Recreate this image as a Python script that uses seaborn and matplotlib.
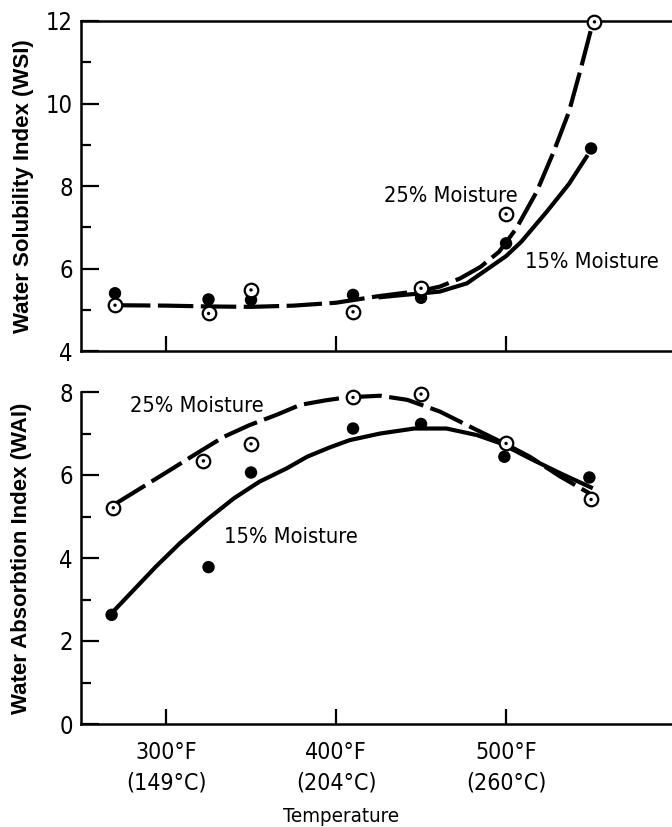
import matplotlib
matplotlib.use("Agg")
import matplotlib.pyplot as plt
import seaborn as sns
from matplotlib import font_manager as fm
from matplotlib.ticker import MultipleLocator, FixedLocator

# ---------------- data ----------------
# Water Solubility Index (top panel)
wsi_t_15 = [270, 325, 350, 410, 450, 500, 550]
wsi_v_15 = [5.40, 5.25, 5.24, 5.36, 5.29, 6.61, 8.91]
wsi_t_25 = [270, 325, 350, 410, 450, 500, 552]
wsi_v_25 = [5.11, 4.91, 5.48, 4.95, 5.52, 7.32, 11.98]

# fitted curves as drawn in the picture
wsi_curve_t_25 = [270, 300, 325, 350, 375, 400, 425, 450, 461, 473, 485, 496, 506, 518, 528, 537, 544, 550]
wsi_curve_v_25 = [5.11, 5.10, 5.08, 5.07, 5.10, 5.17, 5.33, 5.46, 5.56, 5.76, 6.04, 6.41, 6.97, 7.86, 8.83, 9.80, 10.85, 11.80]
wsi_curve_t_15 = [425, 440, 451, 461, 477, 493, 500, 509, 524, 537, 548]
wsi_curve_v_15 = [5.30, 5.36, 5.40, 5.44, 5.64, 6.10, 6.30, 6.65, 7.38, 8.05, 8.75]

# Water Absorption Index (bottom panel)
wai_t_15 = [268, 325, 350, 410, 450, 499, 549]
wai_v_15 = [2.63, 3.78, 6.06, 7.12, 7.23, 6.44, 5.94]
wai_t_25 = [269, 322, 350, 410, 450, 500, 550]
wai_v_25 = [5.21, 6.34, 6.75, 7.87, 7.95, 6.76, 5.41]

wai_curve_t_15 = [268, 281, 294, 308, 324, 340, 355, 371, 383, 396, 408, 426, 446, 465, 483, 497, 514, 532, 551]
wai_curve_v_15 = [2.67, 3.23, 3.79, 4.35, 4.92, 5.44, 5.84, 6.16, 6.44, 6.66, 6.84, 7.00, 7.12, 7.12, 6.96, 6.76, 6.40, 6.04, 5.68]
wai_curve_t_25 = [270, 289, 304, 318, 334, 349, 365, 379, 394, 406, 426, 442, 461, 483, 499, 514, 532, 549]
wai_curve_v_25 = [5.30, 5.78, 6.16, 6.52, 6.92, 7.20, 7.45, 7.69, 7.80, 7.87, 7.91, 7.81, 7.53, 7.08, 6.76, 6.44, 5.96, 5.56]

x_ticks = [300, 400, 500]
x_tick_labels = ["300°F\n(149°C)", "400°F\n(204°C)", "500°F\n(260°C)"]
label_25 = "25% Moisture"
label_15 = "15% Moisture"

# ---------------- style ----------------
sns.set_theme(style="ticks")

_entries = fm.fontManager.ttflist
_cond = {"condensed", "semi-condensed", "extra-condensed", "ultra-condensed"}

def _has(name, stretches=None):
    return any(f.name == name and (stretches is None or f.stretch in stretches) for f in _entries)

# pick a condensed face for the condensed lettering of the original
if _has("Liberation Sans Narrow"):
    NARROW, STRETCH, NSCALE = "Liberation Sans Narrow", "condensed", 1.0
elif _has("DejaVu Sans Condensed"):
    NARROW, STRETCH, NSCALE = "DejaVu Sans Condensed", "condensed", 0.92
elif _has("DejaVu Sans", _cond):
    NARROW, STRETCH, NSCALE = "DejaVu Sans", "condensed", 0.92
elif _has("Noto Sans Condensed"):
    NARROW, STRETCH, NSCALE = "Noto Sans Condensed", "condensed", 1.0
elif _has("Noto Sans", _cond):
    NARROW, STRETCH, NSCALE = "Noto Sans", "condensed", 1.0
else:
    NARROW, STRETCH, NSCALE = "Liberation Sans", "normal", 0.86

plt.rcParams["font.family"] = [NARROW, "DejaVu Sans"]
plt.rcParams["font.stretch"] = STRETCH
for k in ("text.color", "axes.labelcolor", "xtick.color", "ytick.color", "axes.edgecolor"):
    plt.rcParams[k] = "black"
plt.rcParams["axes.linewidth"] = 1.8

YTICK_FS = 18.5 * NSCALE
XTICK_FS = 18 * NSCALE
XLAB_FS = 16 * NSCALE
ANN_FS = 17 * NSCALE

W, H = 672, 827
fig = plt.figure(figsize=(W / 100, H / 100), dpi=100)
fig.patch.set_facecolor("white")

def px_axes(left, top, right, bottom):
    return fig.add_axes([left / W, 1 - bottom / H, (right - left) / W, (bottom - top) / H])

ax1 = px_axes(81, 21, 672, 351)
ax2 = px_axes(81, 392, 672, 724)

XLIM = (250, 597.6)
LW = 3.0
DASH = [8.5, 1.8]

def style_axes(ax, ylim, show_top):
    ax.set_facecolor("white")
    ax.set_xlim(*XLIM)
    ax.set_ylim(*ylim)
    ax.spines["right"].set_visible(False)
    ax.spines["top"].set_visible(show_top)
    for s in ax.spines.values():
        s.set_color("black")
        s.set_linewidth(1.8)
    ax.yaxis.set_major_locator(MultipleLocator(2))
    ax.yaxis.set_minor_locator(MultipleLocator(1))
    ax.xaxis.set_major_locator(FixedLocator(x_ticks))
    ax.tick_params(axis="y", which="major", direction="in", length=13, width=1.6,
                   labelsize=YTICK_FS, pad=6, colors="black")
    ax.tick_params(axis="y", which="minor", direction="in", length=7, width=1.6, colors="black")
    ax.tick_params(axis="x", which="major", direction="in", length=11, width=1.6,
                   labelsize=XTICK_FS, pad=12, colors="black")
    ax.tick_params(axis="x", which="minor", bottom=False)
    ax.grid(False)

def draw_markers(ax, t15, v15, t25, v25):
    sns.scatterplot(x=t15, y=v15, ax=ax, color="black", s=80, edgecolor="none",
                    zorder=5, clip_on=False, legend=False)
    sns.scatterplot(x=t25, y=v25, ax=ax, color="white", edgecolor="black", linewidth=1.6,
                    s=95, zorder=6, clip_on=False, legend=False)
    sns.scatterplot(x=t25, y=v25, ax=ax, color="black", s=6, edgecolor="none",
                    zorder=7, clip_on=False, legend=False)

def draw_curve(ax, t, v, dashed):
    sns.lineplot(x=t, y=v, ax=ax, color="black", lw=LW, estimator=None, sort=False,
                 legend=False, zorder=3)
    line = ax.lines[-1]
    line.set_solid_capstyle("butt")
    line.set_solid_joinstyle("round")
    if dashed:
        line.set_dashes(DASH)
        line.set_dash_capstyle("butt")
        line.set_dash_joinstyle("round")

ylab_kw = dict(fontsize=16, fontweight="bold", family=["Liberation Sans", "DejaVu Sans"],
               fontstretch="normal", va="center", color="black")
ann_kw = dict(fontsize=ANN_FS, ha="left", va="baseline", color="black")

# ---------------- top panel ----------------
style_axes(ax1, (4, 12), True)
draw_curve(ax1, wsi_curve_t_25, wsi_curve_v_25, True)
draw_curve(ax1, wsi_curve_t_15, wsi_curve_v_15, False)
draw_markers(ax1, wsi_t_15, wsi_v_15, wsi_t_25, wsi_v_25)
ax1.set_xticklabels([])
ax1.set_xlabel("")
ax1.set_ylabel("Water Solubility Index (WSI)", **ylab_kw)
ax1.yaxis.set_label_coords((23 - 81) / 591, 0.5)
ax1.text(428, 7.60, label_25, **ann_kw)
ax1.text(511, 6.00, label_15, **ann_kw)

# ---------------- bottom panel ----------------
style_axes(ax2, (0, 8), False)
draw_curve(ax2, wai_curve_t_25, wai_curve_v_25, True)
draw_curve(ax2, wai_curve_t_15, wai_curve_v_15, False)
draw_markers(ax2, wai_t_15, wai_v_15, wai_t_25, wai_v_25)
ax2.set_xticks(x_ticks)
ax2.set_xticklabels(x_tick_labels, linespacing=1.45)
ax2.set_ylabel("Water Absorbtion Index (WAI)", **ylab_kw)
ax2.yaxis.set_label_coords((22 - 81) / 591, 0.5)
ax2.set_xlabel("Temperature", fontsize=XLAB_FS, va="baseline", color="black")
ax2.xaxis.set_label_coords((341 - 81) / 591, -(822 - 724) / 332)
ax2.text(279, 7.53, label_25, **ann_kw)
ax2.text(334, 4.35, label_15, **ann_kw)

fig.savefig("out.png", dpi=100, facecolor="white")
